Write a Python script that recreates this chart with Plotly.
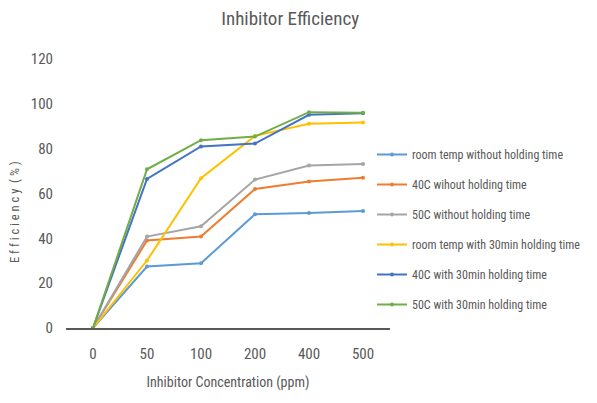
import plotly.graph_objects as go

concentrations = ["0", "50", "100", "200", "400", "500"]
room_no_hold = [0, 27.4, 28.9, 50.7, 51.3, 52.2]
c40_no_hold = [0, 39.0, 40.8, 62.0, 65.3, 67.0]
c50_no_hold = [0, 40.8, 45.4, 66.2, 72.5, 73.2]
room_30 = [0, 30.1, 66.8, 85.7, 91.1, 91.7]
c40_30 = [0, 66.5, 81.0, 82.3, 95.1, 95.8]
c50_30 = [0, 70.8, 83.8, 85.4, 96.3, 96.0]

series_names = [
    "room temp without holding time",
    "40C wihout holding time",
    "50C without holding time",
    "room temp with 30min holding time",
    "40C with 30min holding time",
    "50C with 30min holding time",
]
series_values = [room_no_hold, c40_no_hold, c50_no_hold, room_30, c40_30, c50_30]
colors = ["#5B9BD5", "#ED7D31", "#A5A5A5", "#FFC000", "#4472C4", "#70AD47"]

FONT = "Liberation Sans Narrow, Roboto Condensed, Roboto, sans-serif"

fig = go.Figure()
for i, (name, vals, col) in enumerate(zip(series_names, series_values, colors)):
    fig.add_trace(go.Scatter(
        x=concentrations, y=vals, name=name, mode="lines+markers",
        line=dict(color=col, width=2), marker=dict(color=col, size=4),
        legendgroup=f"g{i}",
    ))

L, R = 66, 5
plot_w = 597 - L - R
dom = 324 / plot_w

fig.update_layout(
    width=597, height=403,
    margin=dict(l=L, r=R, t=59, b=75, autoexpand=False),
    paper_bgcolor="white", plot_bgcolor="white",
    font=dict(family=FONT, color="#595959", size=13),
    title=dict(text="Inhibitor Efficiency", x=0.486, xanchor="center", y=0.955, yanchor="middle",
               font=dict(size=19, color="#595959", family=FONT)),
    xaxis=dict(type="category", domain=[0, dom], range=[-0.5, 5.5], showgrid=False, showline=True,
               linecolor="#595959", linewidth=1.5, ticks="", tickfont=dict(size=15), zeroline=False,
               automargin=False, ticklabelstandoff=11,
               title=dict(text="Inhibitor Concentration (ppm)", font=dict(size=14), standoff=15)),
    yaxis=dict(range=[0, 120], dtick=20, showgrid=False, showline=False, zeroline=False,
               ticks="", tickfont=dict(size=15), automargin=False, ticklabelstandoff=12),
    legend=dict(x=(372 - L) / plot_w, xanchor="left", y=(328 - 140) / 269, yanchor="top",
                tracegroupgap=11, font=dict(size=12, color="#595959"),
                bgcolor="rgba(0,0,0,0)"),
    showlegend=True,
    annotations=[dict(
        text="E f f i c i e n c y  ( % )", textangle=-90, showarrow=False,
        xref="paper", yref="paper", x=(15 - L) / plot_w, y=(328 - 212) / 269,
        xanchor="center", yanchor="middle", font=dict(size=12.5, color="#595959"),
    )],
)

fig.write_html("out.html", config={"displayModeBar": False},
               post_script="document.body.style.margin='0';")
